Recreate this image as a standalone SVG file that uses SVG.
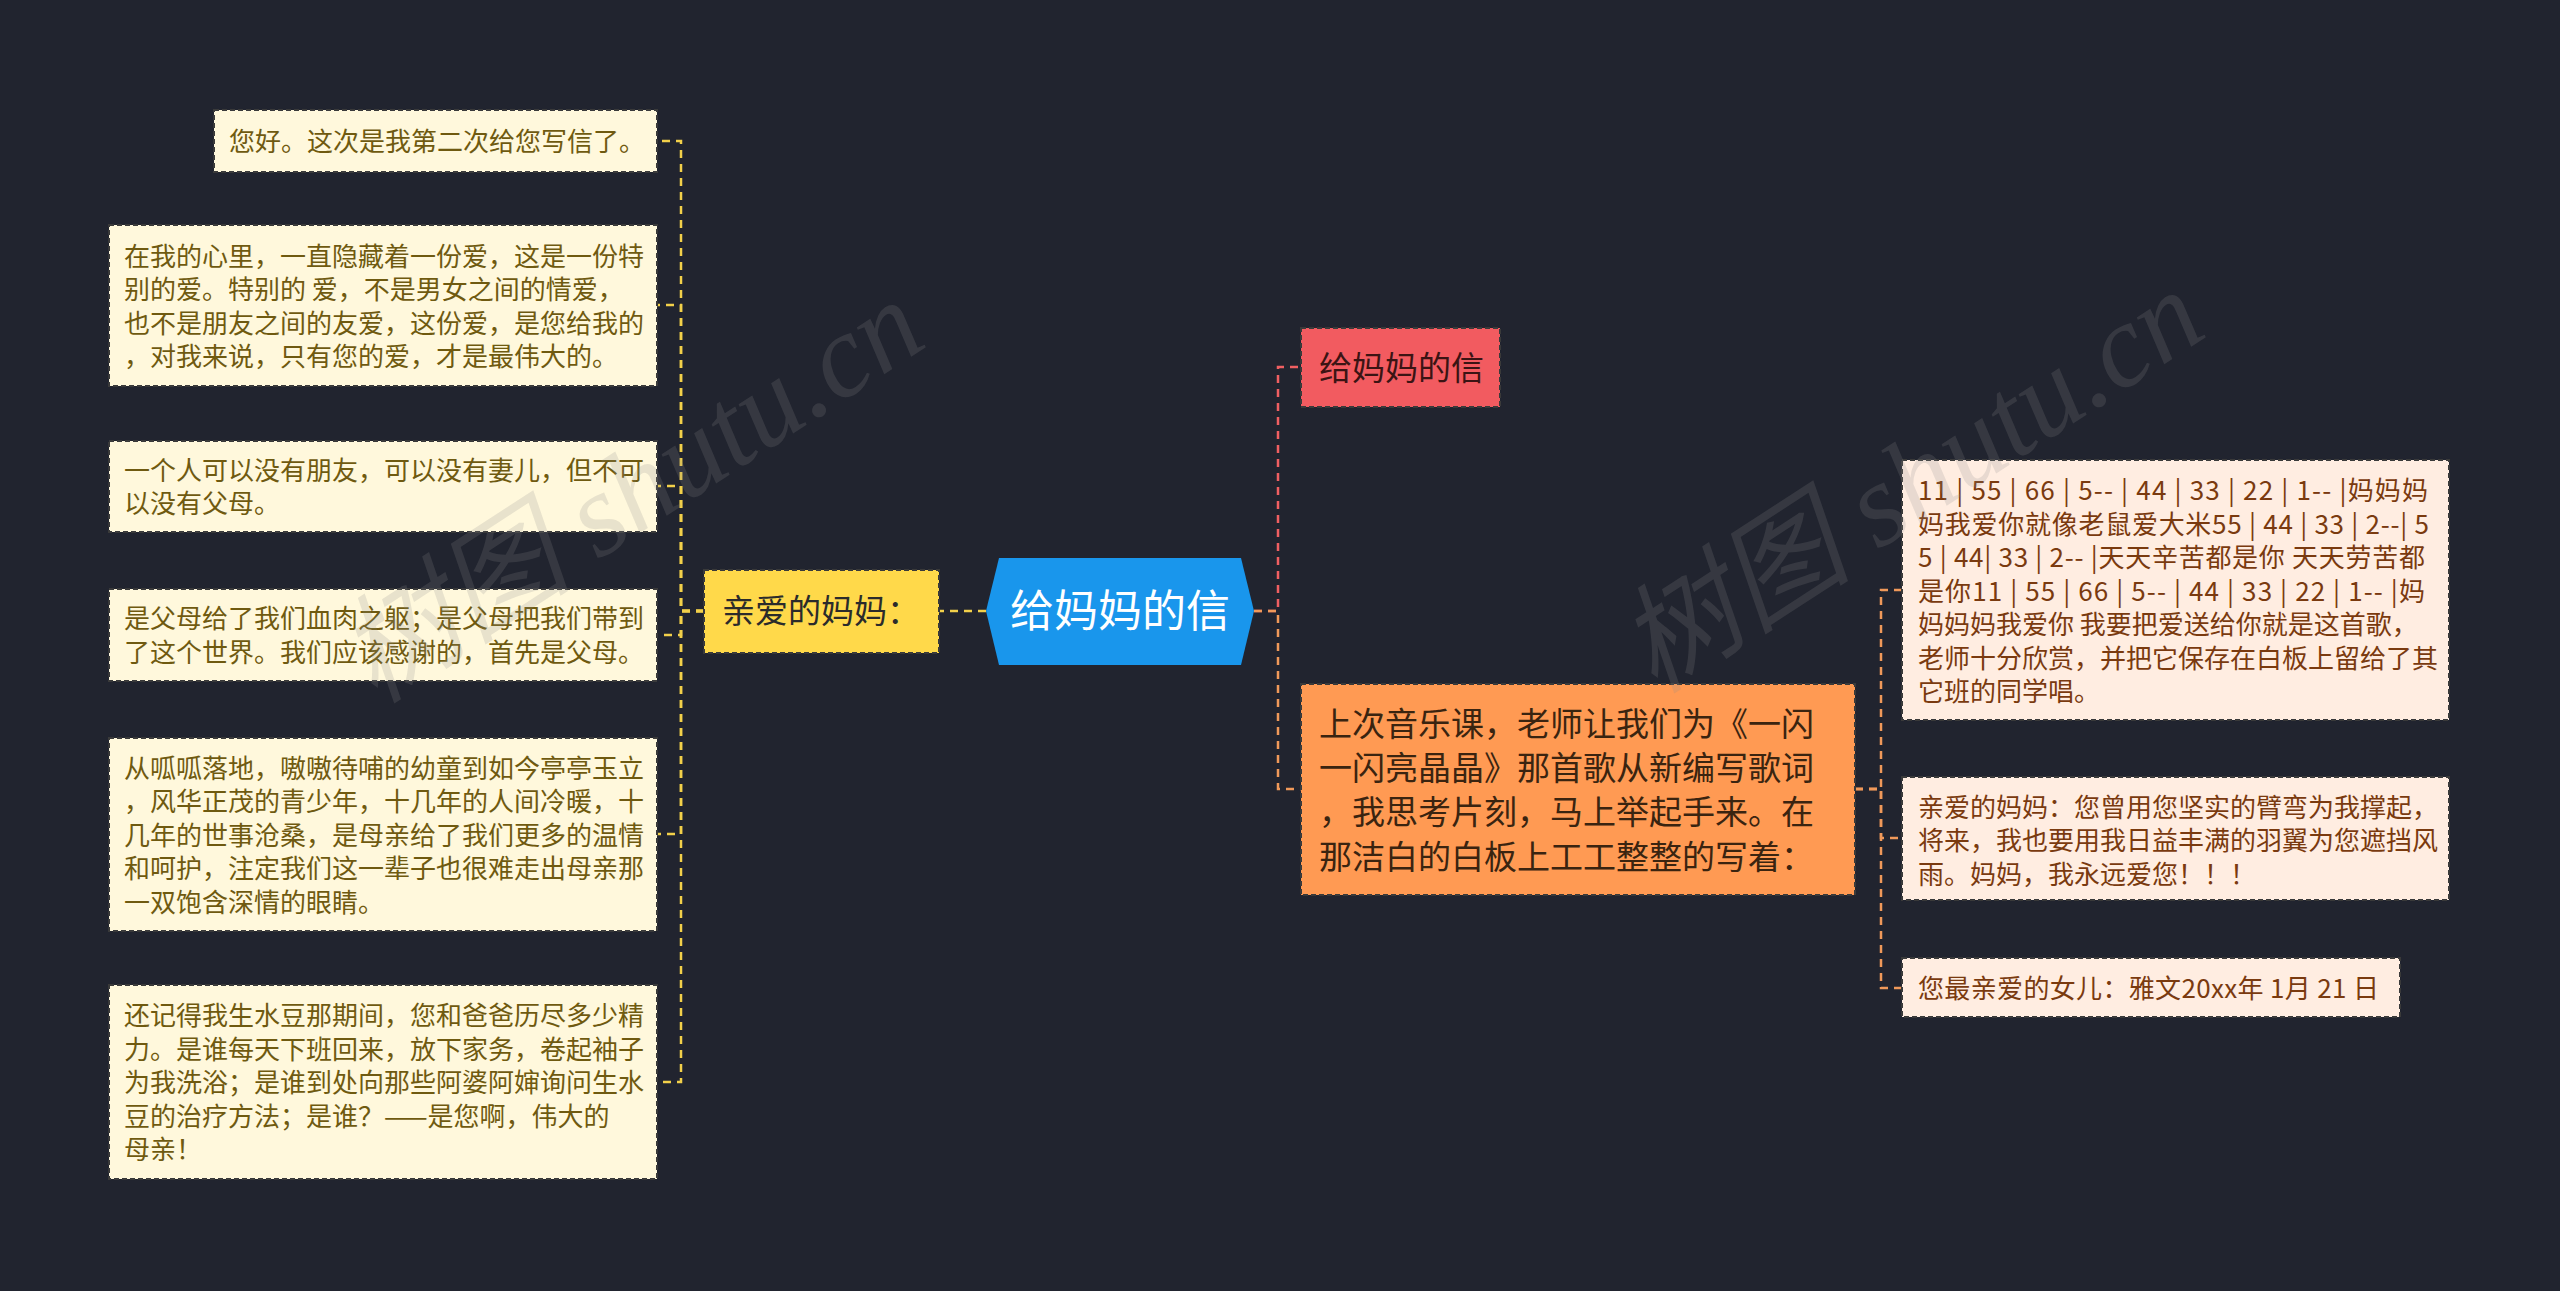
<svg xmlns="http://www.w3.org/2000/svg" width="2560" height="1291" viewBox="0 0 2560 1291">
<style>
.bg{fill:#21242f}
.box{stroke:#3a3a3a;stroke-width:2;stroke-dasharray:5 3}
.lbox{fill:#fff8dc}
.rbox{fill:#ffede1}
.t{font-family:"Noto Sans CJK SC","Noto Sans",sans-serif}
.lt{font-size:26px;fill:#6f5a10}
.rt{font-size:26px;fill:#7a3a0f}
.mt{font-size:33px}
.c{fill:none;stroke-width:2.5;stroke-dasharray:8 6}
.cy{stroke:#f2d04a}
.cr{stroke:#f05f62}
.co{stroke:#f0995a}
.wm{font-family:"Liberation Serif","Noto Sans CJK SC",serif;font-style:italic;font-size:118px;fill:#8c8c8c;fill-opacity:0.2}
</style>
<rect class="bg" x="0" y="0" width="2560" height="1291"/>

<g id="connectors">
<path class="c cy" d="M986,611 H939"/>
<path class="c cy" d="M704,611 H681 V141 H657"/>
<path class="c cy" d="M704,611 H681 V305 H657"/>
<path class="c cy" d="M704,611 H681 V486 H657"/>
<path class="c cy" d="M704,611 H681 V635 H657"/>
<path class="c cy" d="M704,611 H681 V834 H657"/>
<path class="c cy" d="M704,611 H681 V1082 H657"/>
<path class="c cr" d="M1254,611 H1278 V367 H1301"/>
<path class="c co" d="M1254,611 H1278 V789 H1301"/>
<path class="c co" d="M1855,789 H1881 V590 H1902"/>
<path class="c co" d="M1855,789 H1881 V838 H1902"/>
<path class="c co" d="M1855,789 H1881 V988 H1902"/>
</g>

<g id="root">
<polygon points="986,611 999,558 1241,558 1254,611 1241,665 999,665" fill="#1996ec"/>
<text class="t" x="1120" y="627" font-size="44" fill="#ffffff" text-anchor="middle">给妈妈的信</text>
</g>

<g id="n-left">
<rect class="box" x="704" y="570" width="235" height="83" fill="#ffd94a"/>
<text class="t mt" x="722" y="623" fill="#2b2b2b">亲爱的妈妈：</text>
</g>

<g id="n-red">
<rect class="box" x="1301" y="328" width="199" height="79" fill="#f25b60"/>
<text class="t mt" x="1319" y="380" fill="#3b1414">给妈妈的信</text>
</g>

<g id="n-orange">
<rect class="box" x="1301" y="684" width="554" height="211" fill="#ff9a53"/>
<text class="t mt" fill="#3a2410">
<tspan x="1319" y="736">上次音乐课，老师让我们为《一闪</tspan>
<tspan x="1319" y="780">一闪亮晶晶》那首歌从新编写歌词</tspan>
<tspan x="1319" y="824">，我思考片刻，马上举起手来。在</tspan>
<tspan x="1319" y="869">那洁白的白板上工工整整的写着：</tspan>
</text>
</g>

<g id="l1">
<rect class="box lbox" x="214" y="110" width="443" height="62"/>
<text class="t lt" x="229" y="151">您好。这次是我第二次给您写信了。</text>
</g>

<g id="l2">
<rect class="box lbox" x="109" y="225" width="548" height="161"/>
<text class="t lt">
<tspan x="124" y="266">在我的心里，一直隐藏着一份爱，这是一份特</tspan>
<tspan x="124" y="299">别的爱。特别的 爱，不是男女之间的情爱，</tspan>
<tspan x="124" y="333">也不是朋友之间的友爱，这份爱，是您给我的</tspan>
<tspan x="124" y="366">，对我来说，只有您的爱，才是最伟大的。</tspan>
</text>
</g>

<g id="l3">
<rect class="box lbox" x="109" y="441" width="548" height="91"/>
<text class="t lt">
<tspan x="124" y="480">一个人可以没有朋友，可以没有妻儿，但不可</tspan>
<tspan x="124" y="513">以没有父母。</tspan>
</text>
</g>

<g id="l4">
<rect class="box lbox" x="109" y="589" width="548" height="92"/>
<text class="t lt">
<tspan x="124" y="628">是父母给了我们血肉之躯；是父母把我们带到</tspan>
<tspan x="124" y="662">了这个世界。我们应该感谢的，首先是父母。</tspan>
</text>
</g>

<g id="l5">
<rect class="box lbox" x="109" y="738" width="548" height="193"/>
<text class="t lt">
<tspan x="124" y="778">从呱呱落地，嗷嗷待哺的幼童到如今亭亭玉立</tspan>
<tspan x="124" y="811">，风华正茂的青少年，十几年的人间冷暖，十</tspan>
<tspan x="124" y="845">几年的世事沧桑，是母亲给了我们更多的温情</tspan>
<tspan x="124" y="878">和呵护，注定我们这一辈子也很难走出母亲那</tspan>
<tspan x="124" y="912">一双饱含深情的眼睛。</tspan>
</text>
</g>

<g id="l6">
<rect class="box lbox" x="109" y="985" width="548" height="194"/>
<text class="t lt">
<tspan x="124" y="1025">还记得我生水豆那期间，您和爸爸历尽多少精</tspan>
<tspan x="124" y="1059">力。是谁每天下班回来，放下家务，卷起袖子</tspan>
<tspan x="124" y="1092">为我洗浴；是谁到处向那些阿婆阿婶询问生水</tspan>
<tspan x="124" y="1126">豆的治疗方法；是谁？——是您啊，伟大的</tspan>
<tspan x="124" y="1159">母亲！</tspan>
</text>
</g>

<g id="r1">
<rect class="box rbox" x="1902" y="460" width="547" height="260"/>
<text class="t rt">
<tspan x="1918" y="500" textLength="510" lengthAdjust="spacing">11 | 55 | 66 | 5-- | 44 | 33 | 22 | 1-- |妈妈妈</tspan>
<tspan x="1918" y="534" textLength="511" lengthAdjust="spacing">妈我爱你就像老鼠爱大米55 | 44 | 33 | 2--| 5</tspan>
<tspan x="1918" y="567" textLength="507" lengthAdjust="spacing">5 | 44| 33 | 2-- |天天辛苦都是你 天天劳苦都</tspan>
<tspan x="1918" y="601" textLength="507" lengthAdjust="spacing">是你11 | 55 | 66 | 5-- | 44 | 33 | 22 | 1-- |妈</tspan>
<tspan x="1918" y="634">妈妈妈我爱你 我要把爱送给你就是这首歌，</tspan>
<tspan x="1918" y="668">老师十分欣赏，并把它保存在白板上留给了其</tspan>
<tspan x="1918" y="701">它班的同学唱。</tspan>
</text>
</g>

<g id="r2">
<rect class="box rbox" x="1902" y="777" width="547" height="123"/>
<text class="t rt">
<tspan x="1918" y="817">亲爱的妈妈：您曾用您坚实的臂弯为我撑起，</tspan>
<tspan x="1918" y="850">将来，我也要用我日益丰满的羽翼为您遮挡风</tspan>
<tspan x="1918" y="884">雨。妈妈，我永远爱您！！！</tspan>
</text>
</g>

<g id="r3">
<rect class="box rbox" x="1902" y="958" width="498" height="59"/>
<text class="t rt" x="1918" y="998" textLength="461" lengthAdjust="spacing">您最亲爱的女儿：雅文20xx年 1月 21 日</text>
</g>

<g id="watermarks">
<text class="wm" x="375" y="705" transform="rotate(-33 375 705)">树图 shutu.cn</text>
<text class="wm" x="1655" y="695" transform="rotate(-33 1655 695)">树图 shutu.cn</text>
</g>
</svg>
